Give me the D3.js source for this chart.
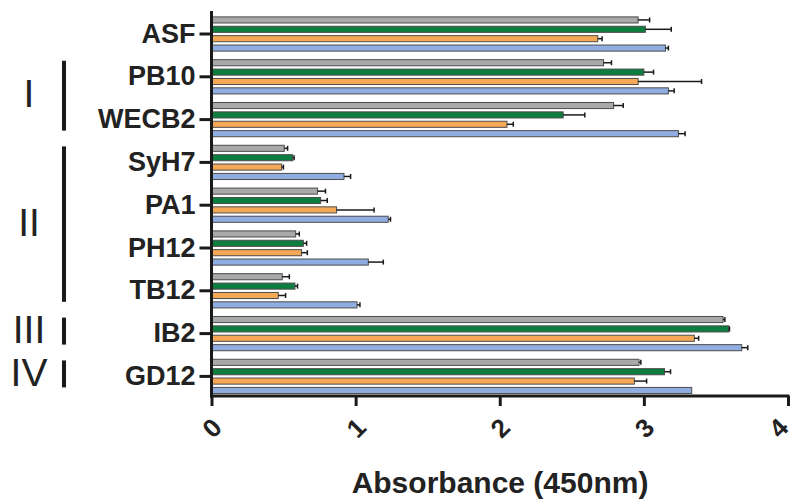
<!DOCTYPE html>
<html>
<head>
<meta charset="utf-8">
<script src="https://cdn.jsdelivr.net/npm/d3@7"></script>
<style>
  body { margin: 0; background: #fff; }
  text { font-family: "Liberation Sans", Arial, sans-serif; }
</style>
</head>
<body>
<script>
// categories top to bottom
var categories = ["ASF", "PB10", "WECB2", "SyH7", "PA1", "PH12", "TB12", "IB2", "GD12"];
var series = ["s1", "s2", "s3", "s4"];

// absorbance values per series, same order as categories
var grayVals   = [2.96, 2.72, 2.79, 0.505, 0.736, 0.584, 0.491, 3.549, 2.966];
var greenVals  = [3.01, 3.00, 2.44, 0.563, 0.757, 0.637, 0.579, 3.589, 3.143];
var orangeVals = [2.68, 2.96, 2.05, 0.487, 0.868, 0.625, 0.463, 3.35, 2.934];
var blueVals   = [3.15, 3.17, 3.24, 0.919, 1.226, 1.088, 1.01, 3.679, 3.332];

// error bars (positive side only)
var grayErr   = [0.08, 0.055, 0.067, 0.023, 0.055, 0.025, 0.049, 0.013, 0.013];
var greenErr  = [0.18, 0.067, 0.15, 0.01, 0.046, 0.023, 0.018, 0.005, 0.042];
var orangeErr = [0.03, 0.44, 0.044, 0.012, 0.26, 0.04, 0.051, 0.03, 0.085];
var blueErr   = [0.02, 0.04, 0.046, 0.046, 0.016, 0.104, 0.02, 0.042, 0];

var xTicks = [0, 1, 2, 3, 4];

// group brackets on the left
var groupNames = ["I", "II", "III", "IV"];
var groupFirst = ["PB10", "SyH7", "IB2", "GD12"];
var groupLast  = ["WECB2", "TB12", "IB2", "GD12"];

var colors = ["#a9a9ab", "#0b7d3f", "#f5a957", "#8fade0"];

var allVals = [grayVals, greenVals, orangeVals, blueVals];
var allErr = [grayErr, greenErr, orangeErr, blueErr];

var data = categories.map(function(c, i) {
  return {
    name: c,
    bars: series.map(function(s, j) {
      return {s: s, v: allVals[j][i], e: allErr[j][i]};
    })
  };
});

var width = 796, height = 500;
var axisX = 211.5, axisY = 396;

var svg = d3.select("body").append("svg")
    .attr("width", width)
    .attr("height", height);

svg.append("rect").attr("width", width).attr("height", height).attr("fill", "#fff");

var x = d3.scaleLinear().domain([0, 4]).range([axisX, 788]);

var y0 = d3.scaleBand()
    .domain(categories)
    .range([12.6, 397.8])
    .paddingInner(0.2)
    .paddingOuter(0.1);

var y1 = d3.scaleBand()
    .domain(series)
    .range([0, y0.bandwidth()])
    .paddingInner(0.35)
    .paddingOuter(0);

var groups = svg.selectAll(".cat")
    .data(data)
    .enter().append("g")
    .attr("class", "cat")
    .attr("transform", function(d) { return "translate(0," + y0(d.name) + ")"; });

groups.selectAll("rect")
    .data(function(d) { return d.bars; })
    .enter().append("rect")
    .attr("x", x(0))
    .attr("y", function(d) { return y1(d.s); })
    .attr("width", function(d) { return x(d.v) - x(0); })
    .attr("height", y1.bandwidth())
    .attr("fill", function(d, i) { return colors[i]; })
    .attr("stroke", "#4d4d4d")
    .attr("stroke-width", 1);

// error bars
var err = groups.selectAll(".err")
    .data(function(d) { return d.bars.filter(function(b) { return b.e > 0; }); })
    .enter().append("g")
    .attr("class", "err");

err.append("line")
    .attr("x1", function(d) { return x(d.v); })
    .attr("x2", function(d) { return x(d.v + d.e); })
    .attr("y1", function(d) { return y1(d.s) + y1.bandwidth() / 2; })
    .attr("y2", function(d) { return y1(d.s) + y1.bandwidth() / 2; })
    .attr("stroke", "#1a1a1a")
    .attr("stroke-width", 1.5);

err.append("line")
    .attr("x1", function(d) { return x(d.v + d.e); })
    .attr("x2", function(d) { return x(d.v + d.e); })
    .attr("y1", function(d) { return y1(d.s) + y1.bandwidth() / 2 - 2.5; })
    .attr("y2", function(d) { return y1(d.s) + y1.bandwidth() / 2 + 2.5; })
    .attr("stroke", "#1a1a1a")
    .attr("stroke-width", 1.5);

// y axis
var yAxis = d3.axisLeft(y0).tickSize(12).tickPadding(4);
var gy = svg.append("g")
    .attr("transform", "translate(" + axisX + ",0)")
    .call(yAxis);
gy.select(".domain").remove();
gy.selectAll(".tick line").attr("stroke", "#1a1a1a").attr("stroke-width", 3);
gy.selectAll(".tick text")
    .attr("font-size", 27)
    .attr("font-weight", "bold")
    .attr("fill", "#222")
    .style("font-family", "'Liberation Sans', Arial, sans-serif");

svg.append("line")
    .attr("x1", axisX).attr("x2", axisX)
    .attr("y1", 11).attr("y2", axisY + 1.5)
    .attr("stroke", "#1a1a1a").attr("stroke-width", 3);

// x axis
var xAxis = d3.axisBottom(x).tickValues(xTicks).tickSize(10).tickFormat(d3.format("d"));
var gx = svg.append("g")
    .attr("transform", "translate(0," + axisY + ")")
    .call(xAxis);
gx.select(".domain").remove();
gx.selectAll(".tick line").attr("stroke", "#1a1a1a").attr("stroke-width", 3);
gx.selectAll(".tick text")
    .attr("y", 0)
    .attr("dy", "0.35em")
    .attr("text-anchor", "middle")
    .attr("transform", function(d, i, nodes) {
      // last label sits at the very edge, nudge it in so it stays visible
      var dx = i === nodes.length - 1 ? -10 : 0;
      return "translate(" + dx + ",32) rotate(-45)";
    })
    .attr("font-size", 26)
    .attr("font-weight", "bold")
    .attr("fill", "#222")
    .style("font-family", "'Liberation Sans', Arial, sans-serif");

svg.append("line")
    .attr("x1", axisX - 1.5).attr("x2", 789.5)
    .attr("y1", axisY).attr("y2", axisY)
    .attr("stroke", "#1a1a1a").attr("stroke-width", 3);

// axis title
svg.append("text")
    .attr("x", 500)
    .attr("y", 493)
    .attr("text-anchor", "middle")
    .attr("font-size", 30)
    .attr("font-weight", "bold")
    .attr("fill", "#222")
    .text("Absorbance (450nm)");

// group brackets
groupNames.forEach(function(g, i) {
  var top = y0(groupFirst[i]) + y0.bandwidth() / 2 - 16;
  var bot = y0(groupLast[i]) + y0.bandwidth() / 2 + 11;
  svg.append("line")
      .attr("x1", 64).attr("x2", 64)
      .attr("y1", top).attr("y2", bot)
      .attr("stroke", "#1a1a1a").attr("stroke-width", 4);
  svg.append("text")
      .attr("x", 29)
      .attr("y", (top + bot) / 2 - 2)
      .attr("dy", "0.35em")
      .attr("text-anchor", "middle")
      .attr("font-size", 39)
      .attr("fill", "#222")
      .text(g);
});
</script>
</body>
</html>
